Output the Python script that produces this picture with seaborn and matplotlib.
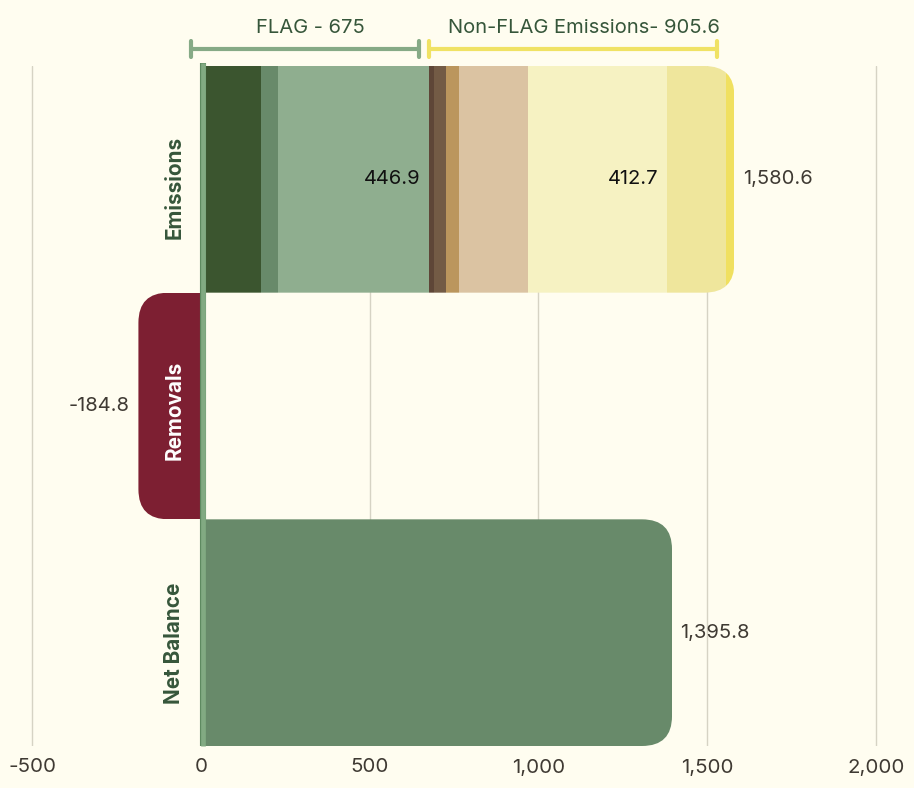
import numpy as np
import pandas as pd
import matplotlib
matplotlib.use("Agg")
import matplotlib.pyplot as plt
import matplotlib.patheffects as pe
import seaborn as sns
from matplotlib.patches import FancyBboxPatch
from matplotlib.transforms import IdentityTransform, offset_copy, blended_transform_factory

# ---------------- data ----------------
categories = ["Emissions", "Removals", "Net Balance"]
flag_values = [178.1, 50.0, 446.9]
nonflag_values = [15.0, 35.6, 38.5, 204.5, 412.7, 175.6, 23.7]
removals_value = -184.8
net_balance_value = 1395.8
flag_total = 675
nonflag_total = 905.6
emissions_total = 1580.6
tick_values = [-500, 0, 500, 1000, 1500, 2000]
inner_labels = {2: 446.9, 7: 412.7}   # segment index -> label value

# ---------------- style ----------------
BG = "#fffdf0"
flag_colors = ["#3b552f", "#688a6a", "#8fae8f"]
nonflag_colors = ["#5e4637", "#735b45", "#bb965d", "#dbc3a2", "#f6f2c2", "#efe69c", "#f0e060"]
removal_color = "#7d1f32"
net_color = "#688a6a"
label_green = "#36563a"
text_dark = "#3f3a33"

sns.set_theme(style="white")
plt.rcParams["font.family"] = ["Inter", "DejaVu Sans"]

W, H = 914, 788
fig = plt.figure(figsize=(W / 100, H / 100), dpi=100, facecolor=BG)
ax = fig.add_axes([25.25 / W, 42 / H, 857.5 / W, 680 / H])
ax.set_facecolor(BG)

segments = []
left = 0.0
for v, c in zip(flag_values + nonflag_values, flag_colors + nonflag_colors):
    segments.append(("Emissions", v, left, c))
    left += v
segments.append(("Removals", removals_value, 0.0, removal_color))
segments.append(("Net Balance", net_balance_value, 0.0, net_color))

bars_by_cat = {c: [] for c in categories}
for cat, v, l, col in segments:
    n0 = len(ax.patches)
    sns.barplot(x=[v], y=[cat], order=categories, orient="h", left=l,
                color=col, saturation=1, width=1.0, linewidth=0,
                errorbar=None, ax=ax, zorder=2)
    bars_by_cat[cat].extend(ax.patches[n0:])

ax.set_xlim(-520, 2020)
ax.set_ylim(2.5, -0.5)
ax.set_xticks(tick_values)
ax.set_xticklabels([f"{v:,}" for v in tick_values])
ax.set_yticks([])
ax.set_xlabel("")
ax.set_ylabel("")
for s in ax.spines.values():
    s.set_visible(False)
ax.tick_params(axis="x", length=0, pad=9, labelsize=14.8, labelcolor=text_dark)
ax.grid(axis="x", color="#d6d3c4", linewidth=1, zorder=0)
ax.set_axisbelow(True)


def round_clip(x0, x1, yi, side, r=30):
    T = ax.transData
    p0 = T.transform((x0, yi + 0.5))
    p1 = T.transform((x1, yi - 0.5))
    xa, xb = min(p0[0], p1[0]), max(p0[0], p1[0])
    ya, yb = min(p0[1], p1[1]), max(p0[1], p1[1])
    if side == "right":
        xa -= 3 * r
    else:
        xb += 3 * r
    return FancyBboxPatch((xa, ya), xb - xa, yb - ya,
                          boxstyle=f"round,pad=0,rounding_size={r}",
                          transform=IdentityTransform())


clips = {
    "Emissions": round_clip(0, emissions_total, 0, "right"),
    "Removals": round_clip(removals_value, 0, 1, "left"),
    "Net Balance": round_clip(0, net_balance_value, 2, "right"),
}
for cat, bars in bars_by_cat.items():
    for b in bars:
        b.set_clip_path(clips[cat])

# zero line
zl_trans = offset_copy(ax.transData, fig=fig, x=2.5, y=0, units="dots")
ax.plot([0, 0], [2.5, -0.513], color="#82aa82", lw=3.4, transform=zl_trans,
        clip_on=False, zorder=6, solid_capstyle="butt",
        path_effects=[pe.Stroke(linewidth=4.4, foreground="#5e8a60"), pe.Normal()])

# value labels
VAL_FS = 14.5
cum = np.cumsum(flag_values + nonflag_values)
for idx, val in inner_labels.items():
    ax.annotate(f"{val:,.1f}", xy=(cum[idx], 0), xytext=(-6, 0), textcoords="offset points",
                ha="right", va="center", fontsize=VAL_FS, color="#111111", zorder=7)
ax.annotate(f"{emissions_total:,.1f}", xy=(emissions_total, 0), xytext=(6, 0),
            textcoords="offset points", ha="left", va="center", fontsize=VAL_FS, color=text_dark)
ax.annotate(f"{removals_value:,.1f}", xy=(removals_value, 1), xytext=(-6, 0),
            textcoords="offset points", ha="right", va="center", fontsize=VAL_FS, color=text_dark)
ax.annotate(f"{net_balance_value:,.1f}", xy=(net_balance_value, 2), xytext=(6, 0),
            textcoords="offset points", ha="left", va="center", fontsize=VAL_FS, color=text_dark)

# category labels (rotated)
cat_offsets = [0.037, 0.018, 0.046]
for i, cat in enumerate(categories):
    ax.text(-79, i + cat_offsets[i], cat, rotation=90, ha="center", va="center",
            fontsize=14.9, fontweight="bold",
            color="white" if cat == "Removals" else label_green, zorder=7)

# brackets above
btrans = blended_transform_factory(ax.transData, fig.transFigure)
by = (H - 49) / H
cap = 8 / H
brackets = [
    ((-30, 645), 325, f"FLAG - {flag_total}", "#86aa86"),
    ((676, 1530), 1136, f"Non-FLAG Emissions- {nonflag_total}", "#f0e264"),
]
for (xa, xb), tx, txt, col in brackets:
    ax.plot([xa, xb], [by, by], color=col, lw=3, transform=btrans, clip_on=False,
            solid_capstyle="butt")
    for xx in (xa, xb):
        ax.plot([xx, xx], [by - cap, by + cap], color=col, lw=3, transform=btrans,
                clip_on=False, solid_capstyle="round")
    ax.text(tx, (H - 28) / H, txt, transform=btrans, ha="center", va="center",
            fontsize=14.5, color=label_green)

fig.savefig("out.png", dpi=100, facecolor=BG)
